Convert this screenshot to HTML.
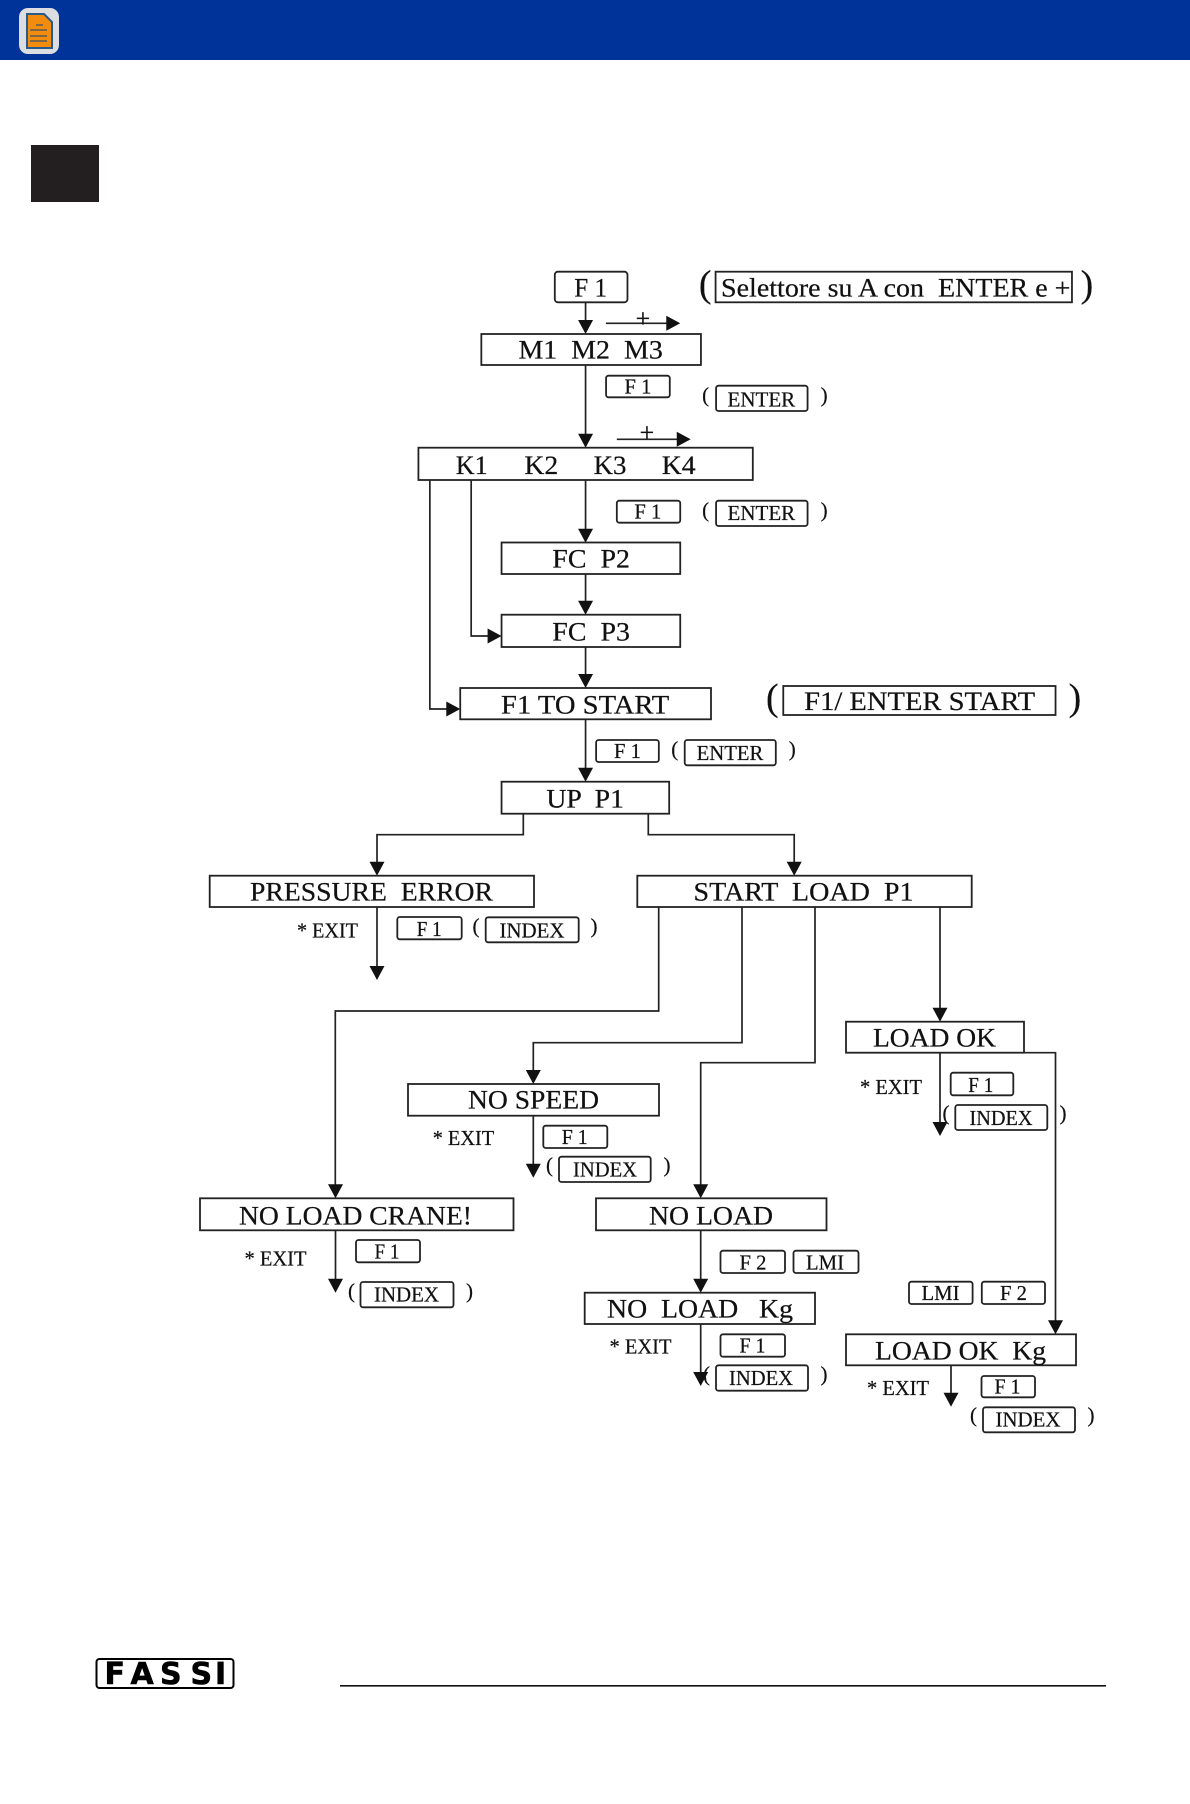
<!DOCTYPE html>
<html><head><meta charset="utf-8"><title>Diagram</title>
<style>
html,body{margin:0;padding:0;background:#fff;width:1190px;height:1804px;overflow:hidden}
svg{display:block}
text{font-family:"Liberation Serif",serif;fill:#111;stroke:#111;stroke-width:.22;white-space:pre}
.l{font-size:26px}
.s{font-size:21px}
.p{font-size:21px;text-anchor:middle}
.b{font-size:38px;text-anchor:middle;font-weight:normal}
.box{fill:#fff;stroke:#222;stroke-width:1.8}
.k{fill:#fff;stroke:#222;stroke-width:1.8}
.ln{fill:none;stroke:#222;stroke-width:1.7}
</style></head><body>
<svg xmlns="http://www.w3.org/2000/svg" width="1190" height="1804" viewBox="0 0 1190 1804">
<defs>
<path id="d" d="M-7.5-14H7.5L0 0Z" fill="#111"/>
<path id="r" d="M-14-7.5V7.5L0 0Z" fill="#111"/>
</defs>
<rect x="0" y="0" width="1190" height="60" fill="#003399"/>
<rect x="19" y="8" width="40" height="46" rx="9" fill="#dcdde0"/>
<path d="M27 14H44L52 22V48H27Z" fill="#f28c0f" stroke="#2a5a8a" stroke-width="2"/>
<path d="M30 30H47M30 36H47M30 41H47M36 25H43" stroke="#5a5a55" stroke-width="1.6"/>
<rect x="31" y="145" width="68" height="57" fill="#231f20"/>

<!-- top section -->
<g transform="translate(400,0) scale(.9955,1) translate(-400,0)">
<path class="ln" d="M586.4 302V322M586.4 365V436M586.4 480V530M586.4 574V602M586.4 647V676M586.4 719V770"/>
<path class="ln" d="M606.8 323.3H670M617.8 439.3H680"/>
<path class="ln" d="M430 480V709H448M471.5 480V636H490"/>
<use href="#d" x="586.4" y="334"/><use href="#d" x="586.4" y="447.7"/><use href="#d" x="586.4" y="542.7"/>
<use href="#d" x="586.4" y="614.7"/><use href="#d" x="586.4" y="688"/><use href="#d" x="586.4" y="781.7"/>
<use href="#r" x="681.5" y="323.3"/><use href="#r" x="692" y="439.3"/>
<use href="#r" x="502" y="636"/><use href="#r" x="460.5" y="709"/>
<text class="l" x="644" y="327" text-anchor="middle">+</text>
<text class="l" x="648" y="441" text-anchor="middle">+</text>

<rect class="k" x="555.5" y="271.7" width="73" height="30.6" rx="3"/>
<text class="l" x="575" y="296.7" textLength="33" lengthAdjust="spacingAndGlyphs">F 1</text>
<rect class="box" x="717" y="271.7" width="358" height="30.6"/>
<text class="l" x="722.5" y="296.7" textLength="351" lengthAdjust="spacingAndGlyphs">Selettore su A con  ENTER e +</text>
<text class="b" x="706.5" y="296.5">(</text><text class="b" x="1090" y="296.5">)</text>

<rect class="box" x="481.7" y="334" width="220.6" height="31"/>
<text class="l" x="519" y="358.3" textLength="145" lengthAdjust="spacingAndGlyphs">M1  M2  M3</text>

<rect class="box" x="418.5" y="447.7" width="335.9" height="32.3"/>
<text class="l" x="456" y="474" textLength="32" lengthAdjust="spacingAndGlyphs">K1</text>
<text class="l" x="525" y="474" textLength="34" lengthAdjust="spacingAndGlyphs">K2</text>
<text class="l" x="594.5" y="474" textLength="33" lengthAdjust="spacingAndGlyphs">K3</text>
<text class="l" x="663" y="474" textLength="34" lengthAdjust="spacingAndGlyphs">K4</text>

<rect class="box" x="502" y="542.5" width="179.5" height="31.5"/>
<text class="l" x="553" y="567.3" textLength="78" lengthAdjust="spacingAndGlyphs">FC  P2</text>
<rect class="box" x="502" y="614.7" width="179.5" height="32.3"/>
<text class="l" x="553" y="640.7" textLength="78" lengthAdjust="spacingAndGlyphs">FC  P3</text>
<rect class="box" x="460.5" y="688" width="251.9" height="31.3"/>
<text class="l" x="501.5" y="713.3" textLength="169" lengthAdjust="spacingAndGlyphs">F1 TO START</text>
<rect class="box" x="785" y="686" width="273.5" height="29"/>
<text class="l" x="806" y="710" textLength="232" lengthAdjust="spacingAndGlyphs">F1/ ENTER START</text>
<text class="b" x="774" y="710">(</text><text class="b" x="1078" y="710">)</text>
<rect class="box" x="502" y="781.7" width="168.4" height="32"/>
<text class="l" x="547" y="807.3" textLength="78" lengthAdjust="spacingAndGlyphs">UP  P1</text>

<rect class="k" x="607" y="375.7" width="64" height="21.6" rx="2.5"/>
<text class="s" x="625.5" y="393.3" textLength="27" lengthAdjust="spacingAndGlyphs">F 1</text>
<text class="p" x="707" y="402">(</text>
<rect class="k" x="717.5" y="385.7" width="91.9" height="25.3" rx="2.5"/>
<text class="s" x="729" y="406.7" textLength="68" lengthAdjust="spacingAndGlyphs">ENTER</text>
<text class="p" x="826" y="402">)</text>

<rect class="k" x="617.8" y="500.7" width="63.7" height="22" rx="2.5"/>
<text class="s" x="635.5" y="518.3" textLength="27" lengthAdjust="spacingAndGlyphs">F 1</text>
<text class="p" x="707" y="517">(</text>
<rect class="k" x="717.5" y="500.7" width="91.9" height="25.3" rx="2.5"/>
<text class="s" x="729" y="520" textLength="68" lengthAdjust="spacingAndGlyphs">ENTER</text>
<text class="p" x="826" y="517">)</text>

<rect class="k" x="597" y="740" width="63" height="22" rx="2.5"/>
<text class="s" x="615" y="758" textLength="27" lengthAdjust="spacingAndGlyphs">F 1</text>
<text class="p" x="676" y="756">(</text>
<rect class="k" x="686" y="740" width="91.5" height="25.3" rx="2.5"/>
<text class="s" x="698" y="760" textLength="67" lengthAdjust="spacingAndGlyphs">ENTER</text>
<text class="p" x="794" y="756">)</text>
</g>

<!-- connectors -->
<path class="ln" d="M523.3 813.7V834.7H377V864M648.3 813.7V834.7H794.2V864"/>
<path class="ln" d="M377 907V968"/>
<path class="ln" d="M658.7 907V1011H335.3V1186"/>
<path class="ln" d="M742 907V1042.7H533.3V1072"/>
<path class="ln" d="M815 907V1062.7H700.7V1186"/>
<path class="ln" d="M940 907V1010M940 1052V1124"/>
<path class="ln" d="M1024 1052.7H1055.5V1323"/>
<path class="ln" d="M533.3 1115V1166M335.5 1230V1281M700.7 1230V1281M700.7 1324V1374M951 1365V1395"/>
<use href="#d" x="377" y="875.7"/><use href="#d" x="794.2" y="875.7"/><use href="#d" x="377" y="980"/>
<use href="#d" x="533.3" y="1084"/><use href="#d" x="940" y="1021.7"/><use href="#d" x="940" y="1136"/>
<use href="#d" x="335.5" y="1198.3"/><use href="#d" x="700.7" y="1198.3"/><use href="#d" x="533.3" y="1177.7"/>
<use href="#d" x="335.5" y="1292.7"/><use href="#d" x="700.7" y="1292.7"/><use href="#d" x="700.7" y="1386"/>
<use href="#d" x="1055.5" y="1334.3"/><use href="#d" x="951" y="1406.7"/>

<!-- main boxes -->
<rect class="box" x="209.7" y="875.7" width="324.3" height="31.3"/>
<text class="l" x="250" y="900.7" textLength="243" lengthAdjust="spacingAndGlyphs">PRESSURE  ERROR</text>
<rect class="box" x="637.3" y="875.7" width="334.4" height="31.3"/>
<text class="l" x="693.5" y="900.7" textLength="220" lengthAdjust="spacingAndGlyphs">START  LOAD  P1</text>
<rect class="box" x="846" y="1021.7" width="178" height="31"/>
<text class="l" x="873" y="1046.7" textLength="123" lengthAdjust="spacingAndGlyphs">LOAD OK</text>
<rect class="box" x="408" y="1084" width="251" height="31.7"/>
<text class="l" x="468" y="1108.3" textLength="131" lengthAdjust="spacingAndGlyphs">NO SPEED</text>
<rect class="box" x="200" y="1198.3" width="313.5" height="32"/>
<text class="l" x="239" y="1224.3" textLength="233" lengthAdjust="spacingAndGlyphs">NO LOAD CRANE!</text>
<rect class="box" x="596" y="1198.3" width="230.5" height="32"/>
<text class="l" x="649" y="1224.3" textLength="124" lengthAdjust="spacingAndGlyphs">NO LOAD</text>
<rect class="box" x="584.7" y="1292.7" width="230.3" height="31.3"/>
<text class="l" x="607" y="1317.7" textLength="186" lengthAdjust="spacingAndGlyphs">NO  LOAD   Kg</text>
<rect class="box" x="846" y="1334.3" width="230" height="31"/>
<text class="l" x="875" y="1359.3" textLength="171" lengthAdjust="spacingAndGlyphs">LOAD OK  Kg</text>

<!-- pressure error -->
<text class="s" x="297" y="937.3" textLength="61" lengthAdjust="spacingAndGlyphs">* EXIT</text>
<rect class="k" x="397.3" y="917" width="64.4" height="22.3" rx="2.5"/>
<text class="s" x="416.7" y="936" textLength="25" lengthAdjust="spacingAndGlyphs">F 1</text>
<text class="p" x="476" y="933">(</text>
<rect class="k" x="485.7" y="917.3" width="93" height="25" rx="2.5"/>
<text class="s" x="499.5" y="937.3" textLength="65" lengthAdjust="spacingAndGlyphs">INDEX</text>
<text class="p" x="594" y="933">)</text>

<!-- load ok -->
<text class="s" x="860" y="1094" textLength="62" lengthAdjust="spacingAndGlyphs">* EXIT</text>
<rect class="k" x="950.7" y="1072.7" width="62.6" height="22.6" rx="2.5"/>
<text class="s" x="968.3" y="1092" textLength="25" lengthAdjust="spacingAndGlyphs">F 1</text>
<text class="p" x="946" y="1120">(</text>
<rect class="k" x="955.3" y="1105" width="92" height="25" rx="2.5"/>
<text class="s" x="969.5" y="1125" textLength="63" lengthAdjust="spacingAndGlyphs">INDEX</text>
<text class="p" x="1063" y="1120">)</text>

<!-- no speed -->
<text class="s" x="432.7" y="1145" textLength="61.5" lengthAdjust="spacingAndGlyphs">* EXIT</text>
<rect class="k" x="543.3" y="1125.7" width="64" height="22.3" rx="2.5"/>
<text class="s" x="561.7" y="1144" textLength="26" lengthAdjust="spacingAndGlyphs">F 1</text>
<text class="p" x="549.5" y="1172">(</text>
<rect class="k" x="559" y="1156.7" width="91.7" height="25.3" rx="2.5"/>
<text class="s" x="573" y="1176.7" textLength="64" lengthAdjust="spacingAndGlyphs">INDEX</text>
<text class="p" x="667" y="1172">)</text>

<!-- no load crane -->
<text class="s" x="244.5" y="1265.7" textLength="62" lengthAdjust="spacingAndGlyphs">* EXIT</text>
<rect class="k" x="356" y="1240" width="64" height="22.3" rx="2.5"/>
<text class="s" x="374.5" y="1258.3" textLength="25" lengthAdjust="spacingAndGlyphs">F 1</text>
<text class="p" x="351.5" y="1298">(</text>
<rect class="k" x="360.5" y="1282" width="93" height="25.3" rx="2.5"/>
<text class="s" x="374" y="1301.7" textLength="65" lengthAdjust="spacingAndGlyphs">INDEX</text>
<text class="p" x="469.5" y="1298">)</text>

<!-- no load -->
<rect class="k" x="720.5" y="1250.7" width="64.5" height="22.3" rx="2.5"/>
<text class="s" x="739.5" y="1269.3" textLength="27" lengthAdjust="spacingAndGlyphs">F 2</text>
<rect class="k" x="793.5" y="1250.7" width="65" height="22.3" rx="2.5"/>
<text class="s" x="806" y="1269.3" textLength="38" lengthAdjust="spacingAndGlyphs">LMI</text>
<rect class="k" x="909" y="1281.7" width="63.6" height="22.3" rx="2.5"/>
<text class="s" x="921.5" y="1300" textLength="38" lengthAdjust="spacingAndGlyphs">LMI</text>
<rect class="k" x="981.8" y="1281.7" width="63.2" height="22.3" rx="2.5"/>
<text class="s" x="1000" y="1300" textLength="27" lengthAdjust="spacingAndGlyphs">F 2</text>

<!-- no load kg -->
<text class="s" x="609.5" y="1353.3" textLength="62" lengthAdjust="spacingAndGlyphs">* EXIT</text>
<rect class="k" x="720.5" y="1334.3" width="64.5" height="22.4" rx="2.5"/>
<text class="s" x="739.5" y="1352.3" textLength="26" lengthAdjust="spacingAndGlyphs">F 1</text>
<text class="p" x="706.5" y="1381">(</text>
<rect class="k" x="716" y="1365.3" width="92" height="25.4" rx="2.5"/>
<text class="s" x="729" y="1385" textLength="64" lengthAdjust="spacingAndGlyphs">INDEX</text>
<text class="p" x="824" y="1381">)</text>

<!-- load ok kg -->
<text class="s" x="867" y="1395" textLength="62" lengthAdjust="spacingAndGlyphs">* EXIT</text>
<rect class="k" x="981.5" y="1376" width="53.5" height="21.3" rx="2.5"/>
<text class="s" x="994.5" y="1393.3" textLength="26" lengthAdjust="spacingAndGlyphs">F 1</text>
<text class="p" x="973.5" y="1422">(</text>
<rect class="k" x="983" y="1407.3" width="92" height="25" rx="2.5"/>
<text class="s" x="995.5" y="1426.7" textLength="65" lengthAdjust="spacingAndGlyphs">INDEX</text>
<text class="p" x="1091" y="1422">)</text>

<!-- footer -->
<rect x="96.5" y="1659" width="137" height="29" rx="3" fill="#fff" stroke="#000" stroke-width="2"/>
<text x="104.5 130.5 160 190.5 215" y="1684" style="font-family:'DejaVu Sans',sans-serif;font-weight:bold;font-size:30px;fill:#000;stroke:#000;stroke-width:.6">FASSI</text>
<rect x="340" y="1685" width="766" height="1.6" fill="#111"/>
</svg>
</body></html>
